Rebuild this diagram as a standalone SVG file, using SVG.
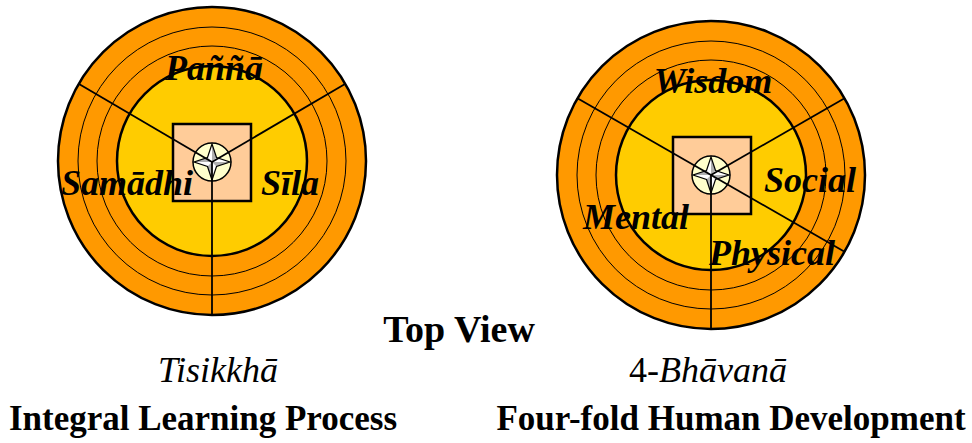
<svg xmlns="http://www.w3.org/2000/svg" width="972" height="443" viewBox="0 0 972 443">
<defs>
<style>
.outer{fill:#FF9900;stroke:#000;stroke-width:2.5}
.ring{fill:none;stroke:#000;stroke-width:1}
.core{fill:#FFCC00;stroke:#000;stroke-width:2.5}
.sq{fill:#FFCC99;stroke:#000;stroke-width:2.5}
.hub{fill:#FFFFCC;stroke:#000;stroke-width:1.5}
.spoke{stroke:#000;stroke-width:1.8;fill:none}
.lbl{font-family:"Liberation Serif","Times New Roman",serif;font-weight:bold;font-style:italic;font-size:36px;fill:#000}
.cap{font-family:"Liberation Serif","Times New Roman",serif;font-weight:normal;font-size:36px;fill:#000}
.title{font-family:"Liberation Serif","Times New Roman",serif;font-weight:bold;font-size:35px;fill:#000}
</style>
<g id="star">
<polygon points="0,-18 4.5,-4.5 18,0 4.5,4.5 0,18 -4.5,4.5 -18,0 -4.5,-4.5" fill="#fff"/>
<polygon points="0,-18 4.5,-4.5 0,0" fill="#b0b0b0"/>
<polygon points="18,0 4.5,4.5 0,0" fill="#b0b0b0"/>
<polygon points="0,18 -4.5,4.5 0,0" fill="#b0b0b0"/>
<polygon points="-18,0 -4.5,-4.5 0,0" fill="#b0b0b0"/>
<polygon points="0,-18 4.5,-4.5 18,0 4.5,4.5 0,18 -4.5,4.5 -18,0 -4.5,-4.5" fill="none" stroke="#000" stroke-width="1.2"/>
</g>
</defs>
<rect width="972" height="443" fill="#fff"/>

<g id="tisikkha-wheel">
<circle class="outer" cx="212" cy="161" r="154"/>
<circle class="ring" cx="212" cy="161" r="134"/>
<circle class="ring" cx="212" cy="161" r="115"/>
<circle class="core" cx="212" cy="161" r="95"/>
<rect class="sq" x="173" y="124" width="78" height="77"/>
<circle class="hub" cx="212" cy="162" r="19"/>
<use href="#star" x="212" y="162"/>
</g>

<g id="bhavana-wheel">
<circle class="outer" cx="711" cy="175" r="154"/>
<circle class="ring" cx="711" cy="175" r="134"/>
<circle class="ring" cx="711" cy="175" r="115"/>
<circle class="core" cx="711" cy="175" r="95"/>
<rect class="sq" x="673" y="137" width="78" height="77"/>
<circle class="hub" cx="711" cy="175" r="19"/>
<use href="#star" x="711" y="175"/>
</g>

<g id="connectors">
<line class="spoke" x1="212" y1="162" x2="79" y2="84"/>
<line class="spoke" x1="212" y1="162" x2="345" y2="84"/>
<line class="spoke" x1="212" y1="162" x2="212" y2="315"/>
<line class="spoke" x1="711" y1="175" x2="577" y2="98"/>
<line class="spoke" x1="711" y1="175" x2="845" y2="98"/>
<line class="spoke" x1="711" y1="175" x2="711" y2="329"/>
<line class="spoke" x1="711" y1="175" x2="845" y2="252"/>
</g>

<g id="label-panna"><text class="lbl" x="214" y="80" text-anchor="middle">Paññā</text></g>
<g id="label-samadhi"><text class="lbl" x="127" y="195" text-anchor="middle">Samādhi</text></g>
<g id="label-sila"><text class="lbl" x="290" y="195" text-anchor="middle">Sīla</text></g>

<g id="label-wisdom"><text class="lbl" x="713" y="93" text-anchor="middle">Wisdom</text></g>
<g id="label-social"><text class="lbl" x="810" y="192" text-anchor="middle">Social</text></g>
<g id="label-mental"><text class="lbl" x="636" y="229" text-anchor="middle">Mental</text></g>
<g id="label-physical"><text class="lbl" x="772" y="265" text-anchor="middle">Physical</text></g>

<g id="caption-top"><text class="title" x="459" y="342" text-anchor="middle" style="font-size:38px">Top View</text></g>
<g id="caption-left">
<text class="cap" x="218" y="382" text-anchor="middle" style="font-style:italic">Tisikkhā</text>
<text class="title" x="203" y="430" text-anchor="middle">Integral Learning Process</text>
</g>
<g id="caption-right">
<text class="cap" x="708" y="382" text-anchor="middle">4-<tspan style="font-style:italic">Bhāvanā</tspan></text>
<text class="title" x="731" y="430" text-anchor="middle">Four-fold Human Development</text>
</g>
</svg>
